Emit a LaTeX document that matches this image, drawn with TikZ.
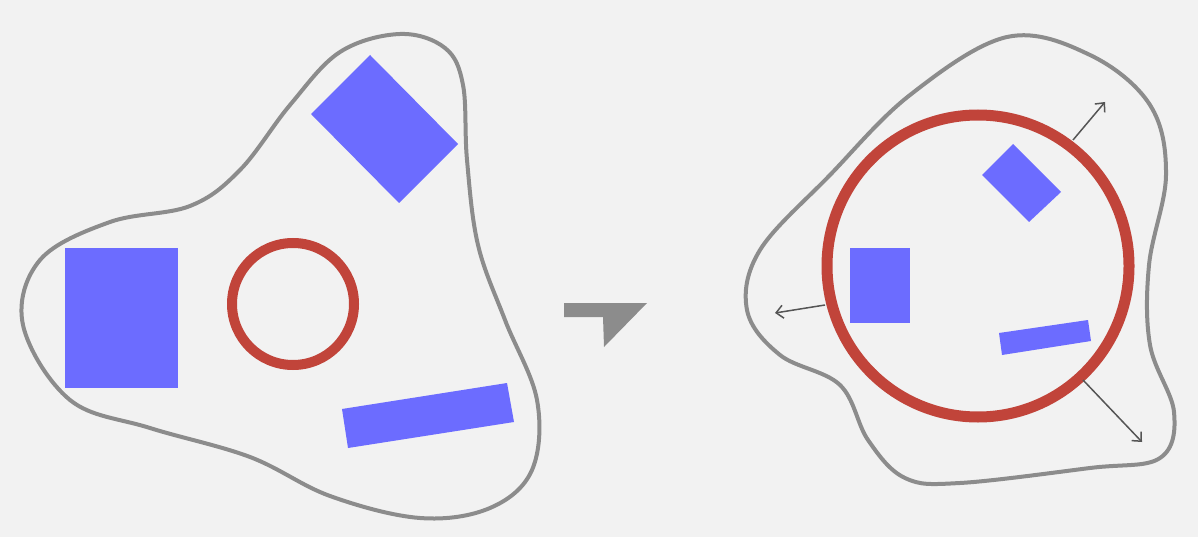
\documentclass[tikz,border=0pt]{standalone}
\usepackage{xcolor}
\usetikzlibrary{arrows.meta}
\definecolor{canvasgray}{HTML}{F2F2F2}
\definecolor{blobgray}{HTML}{8C8C8C}
\definecolor{shapeblue}{HTML}{6C6CFF}
\definecolor{ringred}{HTML}{C1443A}
\definecolor{arrowgray}{HTML}{555555}

\begin{document}
\begin{tikzpicture}[
  x=1pt,y=-1pt,
  blob/.style={draw=blobgray,line width=4pt,line join=round},
  block/.style={fill=shapeblue},
  ring/.style={draw=ringred,line width=10pt},
  push/.style={draw=arrowgray,line width=1.5pt,
    -{Straight Barb[length=7pt,width=13pt]}}
]
  \fill[canvasgray] (0,0) rectangle (1198,537);
  \useasboundingbox (0,0) rectangle (1198,537);

  % before: small ring inside the blob
  \draw[blob] plot[smooth cycle,tension=0.6] coordinates {
    (400,34) (445,48) (463,85) (467,160) (478,245) (505,320) (537,400)
    (532,470) (490,508) (420,518) (330,496) (250,457) (150,428) (70,400)
    (23,325) (40,260) (110,222) (190,206) (240,170) (290,105) (340,52)};
  \fill[block] (65,248) rectangle (178,388);
  \fill[block] (370,55) -- (458,144) -- (399,203) -- (311,114) -- cycle;
  \fill[block] (342,409) -- (507,383) -- (514,422) -- (348,448) -- cycle;
  \draw[ring] (293,304) circle[radius=61pt];

  % transition mark
  \fill[blobgray] (564,303) -- (647,303) -- (604,347) -- (603,317)
    -- (564,317) -- cycle;

  % after: ring grown, blob pushed out
  \draw[blob] plot[smooth cycle,tension=0.6] coordinates {
    (1007,37) (1090,55) (1150,105) (1166,175) (1149,265) (1150,345)
    (1174,412) (1160,458) (1090,468) (960,483) (905,478) (868,440)
    (840,385) (780,355) (747,310) (760,250) (830,175) (910,95)};
  \fill[block] (850,248) rectangle (910,323);
  \fill[block] (1013,144) -- (1061,192) -- (1029,222) -- (982,175) -- cycle;
  \fill[block] (999,333) -- (1088,320) -- (1091,341) -- (1002,355) -- cycle;
  \draw[ring,line width=11pt] (978,266) circle[radius=151pt];

  \coordinate (ne-from) at (1073,140);
  \coordinate (ne-to) at (1105,102);
  \coordinate (w-from) at (825,305);
  \coordinate (w-to) at (775,313);
  \coordinate (se-from) at (1083,380);
  \coordinate (se-to) at (1142,442);
  \draw[push] (ne-from) -- (ne-to);
  \draw[push] (w-from) -- (w-to);
  \draw[push] (se-from) -- (se-to);
\end{tikzpicture}
\end{document}
